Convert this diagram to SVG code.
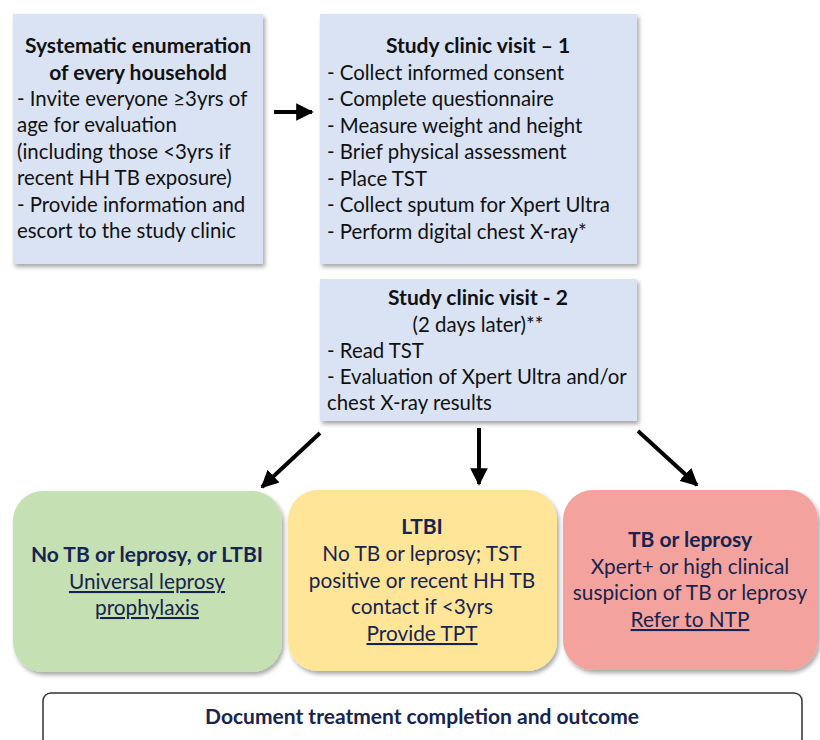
<svg xmlns="http://www.w3.org/2000/svg" width="820" height="740" viewBox="0 0 820 740">
  <defs>
    <filter id="shadow" x="-10%" y="-10%" width="125%" height="125%">
      <feDropShadow dx="2" dy="3" stdDeviation="2" flood-color="#000" flood-opacity="0.35"/>
    </filter>
    <marker id="head" viewBox="0 0 10 10" refX="9" refY="5" markerWidth="4.4" markerHeight="4.4" markerUnits="strokeWidth" orient="auto">
      <path d="M0,0 L10,5 L0,10 Z" fill="#000"/>
    </marker>
    <style>
      text { font-family: Lato, "Open Sans", "Liberation Sans", sans-serif; font-size: 20.4px; fill: #111; }
      .b { font-weight: bold; font-size: 21px; }
      .c { text-anchor: middle; }
      .n { fill: #16244f; }
      .w { font-size: 20.8px; }
      .u { text-decoration: underline; }
      .step { fill: #dae3f3; filter: url(#shadow); }
      .conn { stroke: #000; stroke-width: 4; fill: none; marker-end: url(#head); }
    </style>
  </defs>
  <rect width="820" height="740" fill="#fff"/>

  <!-- household enumeration -->
  <g id="enumeration">
    <rect class="step" x="13" y="14" width="250" height="250"/>
    <text class="b c" x="138" y="53">Systematic enumeration</text>
    <text class="b c" x="138" y="80">of every household</text>
    <text x="17" y="106">- Invite everyone ≥3yrs of</text>
    <text x="17" y="132">age for evaluation</text>
    <text x="17" y="159">(including those &lt;3yrs if</text>
    <text x="17" y="185">recent HH TB exposure)</text>
    <text x="17" y="212">- Provide information and</text>
    <text x="17" y="238">escort to the study clinic</text>
  </g>

  <!-- first clinic visit -->
  <g id="visit1">
    <rect class="step" x="320" y="14" width="317" height="250"/>
    <text class="b c" x="478" y="53">Study clinic visit – 1</text>
    <text x="327" y="80">- Collect informed consent</text>
    <text x="327" y="106">- Complete questionnaire</text>
    <text x="327" y="133">- Measure weight and height</text>
    <text x="327" y="159">- Brief physical assessment</text>
    <text x="327" y="186">- Place TST</text>
    <text x="327" y="212">- Collect sputum for Xpert Ultra</text>
    <text x="327" y="239">- Perform digital chest X-ray*</text>
  </g>

  <!-- second clinic visit -->
  <g id="visit2">
    <rect class="step" x="320" y="279" width="317" height="142"/>
    <text class="b c" x="478" y="305">Study clinic visit - 2</text>
    <text class="c" x="478" y="332">(2 days later)**</text>
    <text x="327" y="358">- Read TST</text>
    <text x="327" y="384">- Evaluation of Xpert Ultra and/or</text>
    <text x="327" y="410">chest X-ray results</text>
  </g>

  <!-- outcomes -->
  <g id="no-tb">
    <rect x="13" y="491" width="269" height="181" rx="30" fill="#c5e0b3" filter="url(#shadow)"/>
    <text class="b c n" x="147" y="562">No TB or leprosy, or LTBI</text>
    <text class="c n u w" x="147" y="589">Universal leprosy</text>
    <text class="c n u w" x="147" y="615">prophylaxis</text>
  </g>

  <g id="ltbi">
    <rect x="288" y="490" width="269" height="181" rx="30" fill="#fee598" filter="url(#shadow)"/>
    <text class="b c n" x="422" y="534">LTBI</text>
    <text class="c n w" x="422" y="561">No TB or leprosy; TST</text>
    <text class="c n w" x="422" y="588">positive or recent HH TB</text>
    <text class="c n w" x="422" y="614">contact if &lt;3yrs</text>
    <text class="c n u w" x="422" y="641">Provide TPT</text>
  </g>

  <g id="tb-leprosy">
    <rect x="563" y="490" width="255" height="180" rx="30" fill="#f4a29d" filter="url(#shadow)"/>
    <text class="b c n" x="690" y="547">TB or leprosy</text>
    <text class="c n w" x="690" y="574">Xpert+ or high clinical</text>
    <text class="c n w" x="690" y="600">suspicion of TB or leprosy</text>
    <text class="c n u w" x="690" y="627">Refer to NTP</text>
  </g>

  <g id="completion">
    <rect x="43" y="693" width="759" height="60" rx="8" fill="#fff" stroke="#333" stroke-width="1.5"/>
    <text class="b c n" x="422" y="724">Document treatment completion and outcome</text>
  </g>

  <!-- connectors -->
  <g id="connectors">
    <path class="conn" d="M274,112 L312,112"/>
    <path class="conn" d="M320,433 L262,487"/>
    <path class="conn" d="M479,428 L479,484"/>
    <path class="conn" d="M638,431 L697,485"/>
  </g>
</svg>
